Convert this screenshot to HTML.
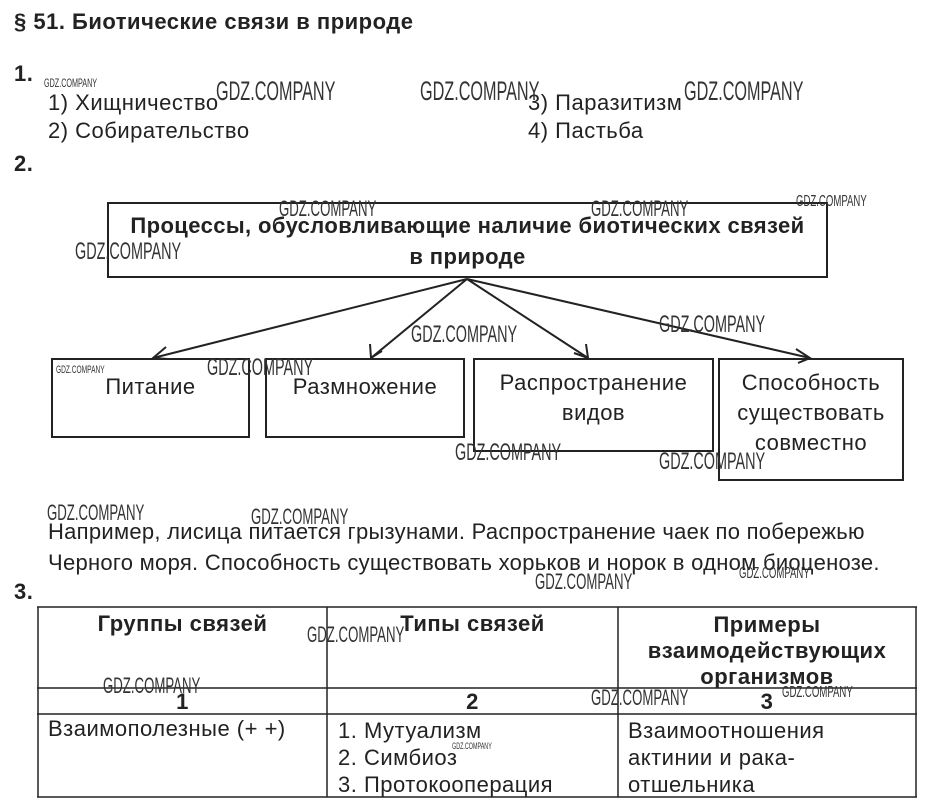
<!DOCTYPE html>
<html><head><meta charset="utf-8"><style>
body{margin:0;width:926px;height:801px;background:#fff;position:relative;overflow:hidden;font-family:"Liberation Sans",sans-serif;color:#222}
.t{position:absolute;white-space:nowrap;font-size:22px;letter-spacing:0.5px;line-height:24px}
.b{font-weight:bold}
.w{position:absolute;white-space:nowrap;font-size:27px;line-height:27px;transform:scaleX(0.6);transform-origin:0 0;color:#333}
.ws{position:absolute;white-space:nowrap;font-size:12px;line-height:12px;transform:scaleX(0.6);transform-origin:0 0;color:#333}
.box{position:absolute;border:2px solid #222;box-sizing:border-box}
.c{text-align:center}
</style></head><body>
<div class="t b" style="left:14px;top:10px">§ 51. Биотические связи в природе</div>
<div class="t b" style="left:14px;top:62px">1.</div>
<div class="t" style="left:48px;top:91px">1) Хищничество</div>
<div class="t" style="left:48px;top:119px">2) Собирательство</div>
<div class="t" style="left:528px;top:91px">3) Паразитизм</div>
<div class="t" style="left:528px;top:119px">4) Пастьба</div>
<div class="t b" style="left:14px;top:152px">2.</div>

<div class="box" style="left:107px;top:202px;width:721px;height:76px"></div>
<div class="t b c" style="left:107px;top:210px;width:721px;line-height:31px;letter-spacing:0.4px">Процессы, обусловливающие наличие биотических связей<br>в природе</div>

<svg style="position:absolute;left:0;top:0" width="926" height="801">
<g stroke="#222" stroke-width="2" fill="none">
<line x1="467" y1="279" x2="153" y2="358"/>
<line x1="467" y1="279" x2="371" y2="358"/>
<line x1="467" y1="279" x2="588" y2="358"/>
<line x1="467" y1="279" x2="810" y2="358"/>
<polyline points="166,347 153,358 168,359"/>
<polyline points="370,344 371,358 382,351"/>
<polyline points="574,353 588,358 586,344"/>
<polyline points="796,349 810,358 798,363"/>
</g></svg>

<div class="box" style="left:51px;top:358px;width:199px;height:80px"></div>
<div class="t c" style="left:51px;top:375px;width:199px">Питание</div>
<div class="box" style="left:265px;top:358px;width:200px;height:80px"></div>
<div class="t c" style="left:265px;top:375px;width:200px">Размножение</div>
<div class="box" style="left:473px;top:358px;width:241px;height:94px"></div>
<div class="t c" style="left:473px;top:368px;width:241px;line-height:30px">Распространение<br>видов</div>
<div class="box" style="left:718px;top:358px;width:186px;height:123px"></div>
<div class="t c" style="left:718px;top:368px;width:186px;line-height:30px">Способность<br>существовать<br>совместно</div>

<div class="t" style="left:48px;top:516px;line-height:31px;letter-spacing:0.28px">Например, лисица питается грызунами. Распространение чаек по побережью<br>Черного моря. Способность существовать хорьков и норок в одном биоценозе.</div>
<div class="t b" style="left:14px;top:580px">3.</div>

<svg style="position:absolute;left:0;top:0" width="926" height="801">
<g stroke="#222" stroke-width="1.5">
<line x1="37" y1="607" x2="917" y2="607"/>
<line x1="37" y1="688" x2="917" y2="688"/>
<line x1="37" y1="714" x2="917" y2="714"/>
<line x1="37" y1="797" x2="917" y2="797"/>
<line x1="38" y1="607" x2="38" y2="797"/>
<line x1="327" y1="607" x2="327" y2="797"/>
<line x1="618" y1="607" x2="618" y2="797"/>
<line x1="916" y1="607" x2="916" y2="797"/>
</g></svg>
<div class="t b c" style="left:38px;top:612px;width:289px">Группы связей</div>
<div class="t b c" style="left:327px;top:612px;width:291px">Типы связей</div>
<div class="t b c" style="left:618px;top:612px;width:298px;line-height:26px">Примеры<br>взаимодействующих<br>организмов</div>
<div class="t b c" style="left:38px;top:690px;width:289px">1</div>
<div class="t b c" style="left:327px;top:690px;width:291px">2</div>
<div class="t b c" style="left:618px;top:690px;width:298px">3</div>
<div class="t" style="left:48px;top:717px">Взаимополезные (+ +)</div>
<div class="t" style="left:338px;top:717px;line-height:27px">1. Мутуализм<br>2. Симбиоз<br>3. Протокооперация</div>
<div class="t" style="left:628px;top:717px;line-height:27px">Взаимоотношения<br>актинии и рака-<br>отшельника</div>

<div class="ws" style="left:44px;top:77px">GDZ.COMPANY</div>
<div class="w" style="left:216px;top:78px">GDZ.COMPANY</div>
<div class="w" style="left:420px;top:78px">GDZ.COMPANY</div>
<div class="w" style="left:684px;top:78px">GDZ.COMPANY</div>
<div class="w" style="left:279px;top:195px;font-size:22px">GDZ.COMPANY</div>
<div class="w" style="left:591px;top:195px;font-size:22px">GDZ.COMPANY</div>
<div class="ws" style="left:796px;top:196px;font-size:16px">GDZ.COMPANY</div>
<div class="w" style="left:75px;top:238px;font-size:24px">GDZ.COMPANY</div>
<div class="w" style="left:411px;top:321px;font-size:24px">GDZ.COMPANY</div>
<div class="w" style="left:659px;top:311px;font-size:24px">GDZ.COMPANY</div>
<div class="ws" style="left:56px;top:364px;font-size:11px">GDZ.COMPANY</div>
<div class="w" style="left:207px;top:354px;font-size:24px">GDZ.COMPANY</div>
<div class="w" style="left:455px;top:439px;font-size:24px">GDZ.COMPANY</div>
<div class="w" style="left:659px;top:448px;font-size:24px">GDZ.COMPANY</div>
<div class="w" style="left:47px;top:499px;font-size:22px">GDZ.COMPANY</div>
<div class="w" style="left:251px;top:503px;font-size:22px">GDZ.COMPANY</div>
<div class="w" style="left:535px;top:568px;font-size:22px">GDZ.COMPANY</div>
<div class="ws" style="left:739px;top:568px;font-size:16px">GDZ.COMPANY</div>
<div class="w" style="left:307px;top:621px;font-size:22px">GDZ.COMPANY</div>
<div class="w" style="left:103px;top:672px;font-size:22px">GDZ.COMPANY</div>
<div class="w" style="left:591px;top:684px;font-size:22px">GDZ.COMPANY</div>
<div class="ws" style="left:782px;top:687px;font-size:16px">GDZ.COMPANY</div>
<div class="ws" style="left:452px;top:740px;font-size:9px">GDZ.COMPANY</div>
</body></html>
